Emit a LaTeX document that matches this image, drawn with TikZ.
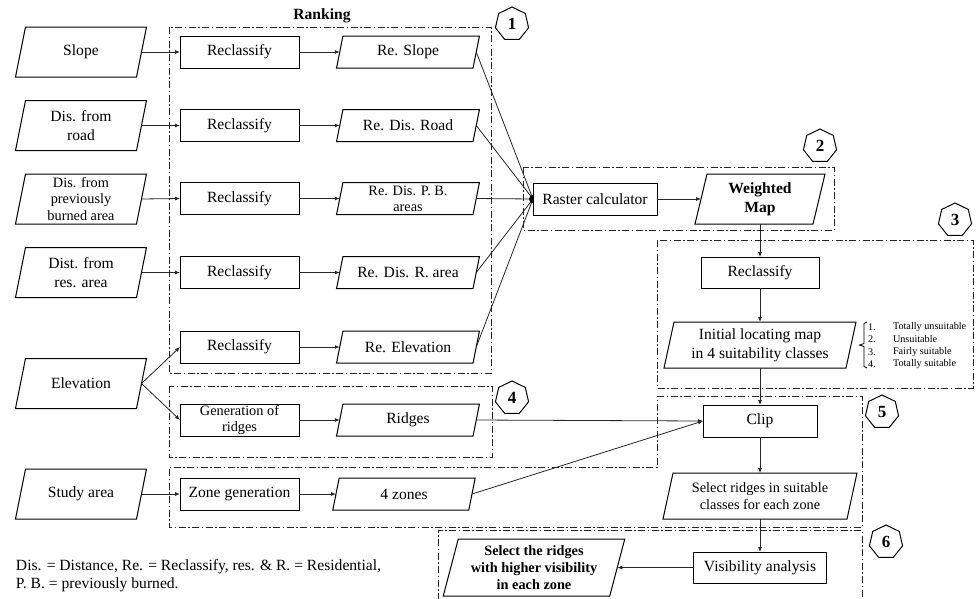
\documentclass[tikz,border=0pt]{standalone}
\usepackage{fontspec}
\setmainfont{Liberation Serif}
\usetikzlibrary{shapes.geometric,arrows.meta}
\begin{document}
\begin{tikzpicture}[x=1pt,y=-1pt,
  every node/.style={inner sep=0pt, outer sep=0pt},
  font=\fontsize{15.6}{19}\selectfont,
  proc/.style={draw, line width=1pt, minimum width=#1, minimum height=32pt, align=center},
  data/.style={minimum width=#1, minimum height=32pt, align=center},
  inp/.style={minimum width=121pt, minimum height=50pt, align=center},
  grp/.style={draw, line width=0.9pt, black!85, dash pattern=on 7pt off 2.5pt on 1.5pt off 2.5pt},
  hept/.style={draw, line width=1pt, regular polygon, regular polygon sides=7, minimum size=34pt, font=\fontsize{17}{18}\selectfont\bfseries},
  arr/.style={-{Latex[length=5pt,width=4pt]}, line width=0.8pt, black!85},
  link/.style={line width=0.8pt, black!85},
  small/.style={font=\fontsize{14.3}{16.3}\selectfont},
  tiny/.style={font=\fontsize{10.2}{12}\selectfont, anchor=west}
]
\fill[white] (0,0) rectangle (977,598);
\useasboundingbox (0,0) rectangle (977,598);

% group boxes
\draw[grp] (169,27) rectangle (491,373);
\draw[grp] (523,167) rectangle (834,230);
\draw[grp] (657,240) rectangle (973,388);
\draw[grp] (169,386) rectangle (492,457);
\draw[grp] (657,396) -- (862,396) -- (862,527) -- (169,527) -- (169,467) -- (657,467) -- cycle;
\draw[grp] (438,600) -- (438,530) -- (862,530) -- (862,600);

\node[font=\fontsize{15.6}{18}\selectfont\bfseries] (rank) at (322,16) {Ranking};

% heptagons
\node[hept] (h1) at (512,24) {1};
\node[hept] (h2) at (820,146) {2};
\node[hept] (h3) at (955,220) {3};
\node[hept] (h4) at (512,398) {4};
\node[hept] (h5) at (882,412) {5};
\node[hept] (h6) at (886,542) {6};

% input column
\node[inp] (slope) at (81,52) {Slope};
\node[inp] (road) at (81,125.5) {Dis. from\\road};
\node[inp, font=\fontsize{14.3}{16.5}\selectfont] (burn) at (81,199) {Dis. from\\previously\\burned area};
\node[inp] (res) at (81,272.5) {Dist. from\\res. area};
\node[inp] (elev) at (81,383.5) {Elevation};
\node[inp] (study) at (81,494) {Study area};

% reclassify column
\node[proc=119pt] (rc1) at (239.5,52) {Reclassify};
\node[proc=119pt] (rc2) at (239.5,125.5) {Reclassify};
\node[proc=119pt] (rc3) at (239.5,198.5) {Reclassify};
\node[proc=119pt] (rc4) at (239.5,272.5) {Reclassify};
\node[proc=119pt] (rc5) at (239.5,347) {Reclassify};
\node[proc=119pt, small] (gen) at (239.5,420) {Generation of\\ridges};
\node[proc=119pt] (zone) at (239.5,494) {Zone generation};

% outputs
\node[data=136.5pt] (o1) at (408,52) {Re. Slope};
\node[data=136.5pt] (o2) at (408,125.5) {Re. Dis. Road};
\node[data=136.5pt, small] (o3) at (408,198.5) {Re. Dis. P. B.\\areas};
\node[data=136.5pt] (o4) at (408,272.5) {Re. Dis. R. area};
\node[data=136.5pt] (o5) at (408,347) {Re. Elevation};
\node[data=136.5pt] (ridges) at (408,420) {Ridges};
\node[data=136pt] (zones) at (404,494) {4 zones};

% right part
\node[proc=124pt] (rcalc) at (595,199) {Raster calculator};
\node[data=118pt, minimum height=50pt, font=\fontsize{15.6}{19}\selectfont\bfseries] (wmap) at (760,199) {Weighted\\Map};
\node[proc=118pt, minimum height=31pt] (rc6) at (760,272.5) {Reclassify};
\node[data=182pt, minimum height=46pt] (init) at (760,345) {Initial locating map\\in 4 suitability classes};
\node[proc=114pt] (clip) at (760,421) {Clip};
\node[data=184pt, minimum height=46pt, small] (selr) at (760,496) {Select ridges in suitable\\classes for each zone};
\node[proc=133pt, minimum height=31pt] (vis) at (760,567.5) {Visibility analysis};
\node[data=166.5pt, minimum height=57pt, font=\fontsize{14.3}{16.7}\selectfont\bfseries] (final) at (534,567.5) {Select the ridges\\with higher visibility\\in each zone};

% parallelogram outlines
\foreach \n/\s in {slope/5, road/5, burn/5, res/5, elev/5, study/5,
                   o1/3.2, o2/3.2, o3/3.2, o4/3.2, o5/3.2, ridges/3.2, zones/3.2,
                   wmap/6, init/5, selr/5, final/7.5}
  \draw[line width=1pt] ([xshift=\s pt]\n.north west) -- ([xshift=\s pt]\n.north east)
     -- ([xshift=-\s pt]\n.south east) -- ([xshift=-\s pt]\n.south west) -- cycle;

% suitability list
\draw[line width=0.8pt] (867,322) -- (864,323.5) -- (864,343.5) -- (859.5,345) -- (864,346.5) -- (864,366.5) -- (867,368);
\node[tiny] (n1) at (868,327) {1.};
\node[tiny] (n2) at (868,339.5) {2.};
\node[tiny] (n3) at (868,352) {3.};
\node[tiny] (n4) at (868,364.5) {4.};
\node[tiny] (t1) at (893,327) {Totally unsuitable};
\node[tiny] (t2) at (893,339.5) {Unsuitable};
\node[tiny] (t3) at (893,352) {Fairly suitable};
\node[tiny] (t4) at (893,364.5) {Totally suitable};

% footnote
\node[anchor=west, align=left, font=\fontsize{15.6}{18}\selectfont] (note) at (16,576)
  {Dis. = Distance, Re. = Reclassify, res. \& R. = Residential,\\P. B. = previously burned.};

% connectors
\foreach \a/\b in {slope/rc1, road/rc2, burn/rc3, res/rc4, elev/rc5, elev/gen, study/zone,
                   rc1/o1, rc2/o2, rc3/o3, rc4/o4, rc5/o5, gen/ridges, zone/zones,
                   ridges/clip, zones/clip, rcalc/wmap}
  \draw[arr] (\a.east) -- (\b.west);
\foreach \a in {o1,o2,o3,o4,o5}
  \draw[link] (\a.east) -- (rcalc.west);
\fill ([yshift=4pt]rcalc.west) arc[start angle=90, end angle=270, radius=4pt] -- cycle;
\draw[arr] (wmap.south) -- (rc6.north);
\draw[arr] (rc6.south) -- (init.north);
\draw[arr] (init.south) -- (clip.north);
\draw[arr] (clip.south) -- (selr.north);
\draw[arr] (selr.south) -- (vis.north);
\draw[arr] (vis.west) -- (final.east);
\end{tikzpicture}
\end{document}
